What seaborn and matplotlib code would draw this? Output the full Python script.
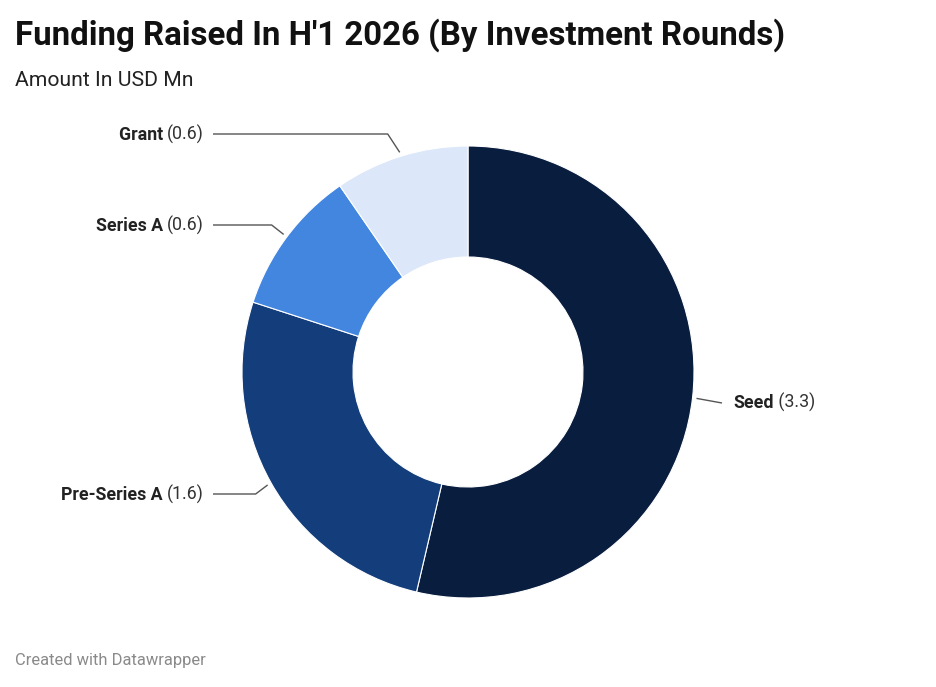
import numpy as np
import matplotlib
matplotlib.use("Agg")
import matplotlib.pyplot as plt
import seaborn as sns

# ---- data ----
categories = ["Seed", "Pre-Series A", "Series A", "Grant"]
values = [3.30, 1.62, 0.64, 0.59]
value_labels = [f"({v:.1f})" for v in values]
colors = ["#091d3e", "#133d7b", "#4286e0", "#dce8f9"]

title = "Funding Raised In H'1 2026 (By Investment Rounds)"
subtitle = "Amount In USD Mn"
footer = "Created with Datawrapper"

sns.set_theme(style="white")
plt.rcParams["font.family"] = ["Roboto", "DejaVu Sans"]

W, H = 936, 687
fig = plt.figure(figsize=(W / 100, H / 100), dpi=100)
ax = fig.add_axes([0, 0, 1, 1])

cx, cy_px, R, ring = 468, 372, 226, 111
cy = H - cy_px

wedges, _ = ax.pie(values, colors=colors, startangle=90, counterclock=False,
                   center=(cx, cy), radius=R,
                   wedgeprops=dict(width=ring, edgecolor="white", linewidth=0.8))
ax.set_xlim(0, W)
ax.set_ylim(0, H)
ax.set_aspect("equal")
ax.axis("off")

# label layout (pixel y of label rows, side)
label_rows = {"Seed": (403, "right"), "Pre-Series A": (494, "left"),
              "Series A": (225, "left"), "Grant": (134, "left")}

line_c = "#555555"
fs = 12.8
for w, cat, vl in zip(wedges, categories, value_labels):
    mid = np.deg2rad((w.theta1 + w.theta2) / 2)
    ex = cx + (R + 4) * np.cos(mid)
    ey = cy + (R + 4) * np.sin(mid)
    ly = H - label_rows[cat][0]
    side = label_rows[cat][1]
    if side == "left":
        elx = ex - 12
        ax.plot([ex, elx, 213], [ey, ly, ly], color=line_c, lw=1.0, solid_capstyle="butt")
        vt = ax.text(204, ly, vl, ha="right", va="center", fontsize=fs, color="#333333")
        ax.annotate(cat + " ", xy=(0, 0), xycoords=vt, ha="right", va="bottom",
                    fontsize=fs, fontweight="bold", color="#222222")
    else:
        elx = 722
        ax.plot([ex, elx], [ey, ly], color=line_c, lw=1.0, solid_capstyle="butt")
        bt = ax.text(733, ly, cat, ha="left", va="center", fontsize=fs,
                     fontweight="bold", color="#222222")
        ax.annotate(" " + vl, xy=(1, 0), xycoords=bt, ha="left", va="bottom",
                    fontsize=fs, color="#333333")

fig.text(15 / W, 1 - 35 / H, title, ha="left", va="center", fontsize=23.8,
         fontweight="bold", color="#111111")
fig.text(15 / W, 1 - 80 / H, subtitle, ha="left", va="center", fontsize=15.2,
         color="#222222")
fig.text(15 / W, 1 - 661 / H, footer, ha="left", va="center", fontsize=11.9,
         color="#8a8a8a")

fig.savefig("out.png", dpi=100, facecolor="white")
